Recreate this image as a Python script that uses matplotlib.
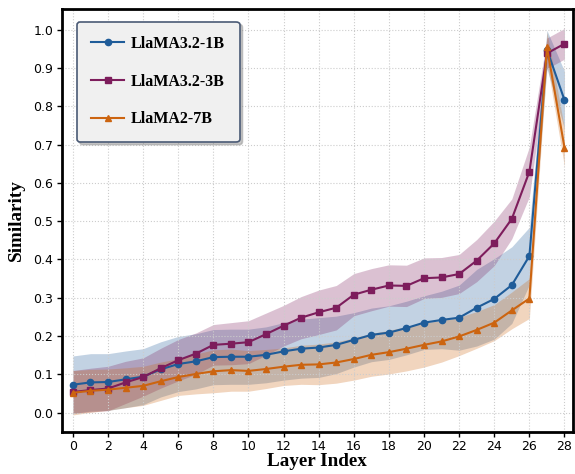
import numpy as np
import matplotlib
matplotlib.use("Agg")
import matplotlib.pyplot as plt

layers = list(range(29))

llama1b = [0.073, 0.079, 0.080, 0.087, 0.094, 0.113, 0.127, 0.134, 0.145, 0.146,
           0.146, 0.151, 0.160, 0.167, 0.170, 0.177, 0.190, 0.203, 0.209, 0.221,
           0.235, 0.242, 0.248, 0.274, 0.297, 0.333, 0.409, 0.948, 0.816]
llama1b_std = [0.075, 0.075, 0.074, 0.074, 0.073, 0.072, 0.072, 0.072, 0.072, 0.072,
               0.072, 0.073, 0.075, 0.077, 0.078, 0.075, 0.071, 0.070, 0.070, 0.070,
               0.070, 0.075, 0.085, 0.100, 0.105, 0.100, 0.075, 0.050, 0.075]

llama3b = [0.054, 0.059, 0.063, 0.079, 0.093, 0.116, 0.137, 0.154, 0.177, 0.180,
           0.184, 0.205, 0.227, 0.248, 0.262, 0.274, 0.308, 0.321, 0.332, 0.331,
           0.351, 0.353, 0.362, 0.397, 0.442, 0.506, 0.629, 0.938, 0.963]
llama3b_std = [0.056, 0.057, 0.058, 0.055, 0.050, 0.052, 0.054, 0.054, 0.053, 0.055,
               0.056, 0.055, 0.053, 0.055, 0.058, 0.058, 0.055, 0.055, 0.054, 0.054,
               0.053, 0.052, 0.051, 0.055, 0.058, 0.052, 0.065, 0.040, 0.040]

llama7b = [0.052, 0.057, 0.060, 0.065, 0.070, 0.082, 0.093, 0.101, 0.108, 0.111,
           0.109, 0.114, 0.120, 0.125, 0.126, 0.131, 0.140, 0.151, 0.158, 0.167,
           0.177, 0.186, 0.199, 0.216, 0.235, 0.267, 0.298, 0.954, 0.692]
llama7b_std = [0.058, 0.056, 0.054, 0.052, 0.051, 0.050, 0.048, 0.052, 0.056, 0.055,
               0.053, 0.051, 0.049, 0.051, 0.053, 0.054, 0.055, 0.056, 0.057, 0.058,
               0.058, 0.054, 0.050, 0.048, 0.047, 0.048, 0.052, 0.040, 0.050]

names = ["LlaMA3.2-1B", "LlaMA3.2-3B", "LlaMA2-7B"]
colors = ["#1f5c99", "#7d1d5c", "#cc6410"]
markers = ["o", "s", "^"]

fig = plt.figure(figsize=(5.75, 4.74), dpi=100)
ax = fig.add_axes([0.107, 0.089, 0.89, 0.893])

series = [(llama1b, llama1b_std), (llama3b, llama3b_std), (llama7b, llama7b_std)]
for (m, s), name, c, mk in zip(series, names, colors, markers):
    m = np.array(m)
    s = np.array(s)
    ax.fill_between(layers, m - s, m + s, color=c, alpha=0.27, linewidth=0)
    ax.plot(layers, m, color=c, marker=mk, markersize=4.5, linewidth=1.5, label=name)

ax.set_xlim(-0.65, 28.5)
ax.set_ylim(-0.05, 1.055)
ax.set_xticks(range(0, 29, 2))
ax.set_yticks(np.arange(0, 1.01, 0.1))
ax.yaxis.set_major_formatter(matplotlib.ticker.FormatStrFormatter("%.1f"))
ax.tick_params(labelsize=9, length=3.5, width=1, pad=2.5)
ax.grid(True, linestyle=":", color="#cccccc", linewidth=0.8)
for sp in ax.spines.values():
    sp.set_linewidth(2)
    sp.set_color("black")

ax.set_xlabel("Layer Index", fontsize=13.8, fontweight="bold", family="Liberation Serif", labelpad=0)
ax.set_ylabel("Similarity", fontsize=13.8, fontweight="bold", family="Liberation Serif", labelpad=6)

leg = ax.legend(loc="upper left", bbox_to_anchor=(0.030, 0.969), borderaxespad=0,
                fancybox=True, shadow={"color": "#888888", "alpha": 0.45},
                prop={"family": "Liberation Serif", "weight": "bold", "size": 11.5},
                labelspacing=1.36, borderpad=0.9, handlelength=2.05, handletextpad=0.45,
                framealpha=1)
leg.get_frame().set_facecolor("#f0f0f0")
leg.get_frame().set_edgecolor("#4a5a75")
leg.get_frame().set_linewidth(1.2)

fig.savefig("out.png", dpi=100)
